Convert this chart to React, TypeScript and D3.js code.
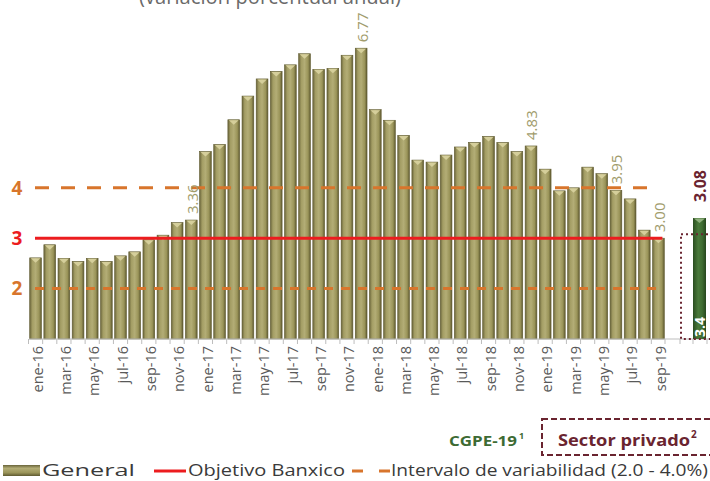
import React from "react";
import * as d3 from "d3";

// Monthly labels (ene-16 … sep-19) and annual inflation (%)
const months: string[] = [
  "ene-16","feb-16","mar-16","abr-16","may-16","jun-16","jul-16","ago-16","sep-16","oct-16","nov-16","dic-16",
  "ene-17","feb-17","mar-17","abr-17","may-17","jun-17","jul-17","ago-17","sep-17","oct-17","nov-17","dic-17",
  "ene-18","feb-18","mar-18","abr-18","may-18","jun-18","jul-18","ago-18","sep-18","oct-18","nov-18","dic-18",
  "ene-19","feb-19","mar-19","abr-19","may-19","jun-19","jul-19","ago-19","sep-19",
];
const general: number[] = [
  2.61, 2.87, 2.60, 2.54, 2.60, 2.54, 2.65, 2.73, 2.97, 3.06, 3.31, 3.36,
  4.72, 4.86, 5.35, 5.82, 6.16, 6.31, 6.44, 6.66, 6.35, 6.37, 6.63, 6.77,
  5.55, 5.34, 5.04, 4.55, 4.51, 4.65, 4.81, 4.90, 5.02, 4.90, 4.72, 4.83,
  4.37, 3.94, 4.00, 4.41, 4.28, 3.95, 3.78, 3.16, 3.00,
];
const labelledMonths: string[] = ["dic-16", "dic-17", "dic-18", "jun-19", "sep-19"];

const objetivo = 3.0;
const intervalo: number[] = [2.0, 4.0];
const yTicks: number[] = [4, 3, 2];

// Forecasts for the end of 2019
const cgpe19 = 3.4;
const sectorPrivado = 3.08;

const W = 710;
const H = 481;

const OLIVE_DARK = "#5f5a2f";
const ORANGE = "#d8752c";
const RED = "#ec1c1f";
const MAROON = "#6a2430";
const GREEN_TXT = "#3d6b34";

export default function App() {
  const x = d3.scaleBand<string>().domain(months).range([29, 665]).paddingInner(0.17).paddingOuter(0.05);
  const y = d3.scaleLinear().domain([1, 8]).range([339, 339 - 7 * 50.4]);
  const base = y(1);
  const bw = x.bandwidth();
  const cx = (m: string) => (x(m) as number) + bw / 2;

  // forecast columns: dotted private-sector box, then the CGPE bar
  const fx = d3.scaleBand<string>().domain(["privado", "cgpe"]).range([680, 706]);
  const gx = fx("cgpe") as number;
  const px = fx("privado") as number;

  const tickLabels = months.filter((_, i) => i % 2 === 0);
  const font = "'Open Sans', 'DejaVu Sans', sans-serif";

  const lineStart = 35;
  const lineEnd = cx(months[months.length - 1]) + 4;

  return (
    <svg width={W} height={H} viewBox={`0 0 ${W} ${H}`}
      style={{ position: "absolute", left: 0, top: 0, background: "#fff" }}
      fontFamily={font}>
      <defs>
        <linearGradient id="oliveGrad" x1="0" x2="1" y1="0" y2="0">
          <stop offset="0" stopColor="#69643a" />
          <stop offset="0.22" stopColor="#a39d64" />
          <stop offset="0.5" stopColor="#b3ad76" />
          <stop offset="0.8" stopColor="#9a9459" />
          <stop offset="1" stopColor="#5e5930" />
        </linearGradient>
        <linearGradient id="oliveGradV" x1="0" x2="0" y1="0" y2="1">
          <stop offset="0" stopColor="#69643a" />
          <stop offset="0.3" stopColor="#b3ad76" />
          <stop offset="0.7" stopColor="#9a9459" />
          <stop offset="1" stopColor="#5e5930" />
        </linearGradient>
        <linearGradient id="greenGrad" x1="0" x2="1" y1="0" y2="0">
          <stop offset="0" stopColor="#2a4d20" />
          <stop offset="0.4" stopColor="#4a7a3b" />
          <stop offset="0.7" stopColor="#3f6d32" />
          <stop offset="1" stopColor="#25461c" />
        </linearGradient>
      </defs>

      {/* subtitle, mostly above the visible area */}
      <text x={270} y={4} textAnchor="middle" fontSize={21} fill="#6a6a6a"
        textLength={262} lengthAdjust="spacingAndGlyphs">(variación porcentual anual)</text>

      {/* bars */}
      {months.map((m, i) => {
        const top = y(general[i]);
        const x0 = x(m) as number;
        return (
          <g key={m}>
            <rect x={x0} y={top} width={bw} height={base - top} fill="url(#oliveGrad)"
              stroke={OLIVE_DARK} strokeWidth={0.6} />
            <path d={`M${x0 + 1},${top + 0.5} L${x0 + bw - 1},${top + 0.5} L${x0 + bw / 2},${top + 5} Z`}
              fill="#d9d3a0" opacity={0.9} />
          </g>
        );
      })}

      {/* axis line and ticks */}
      <line x1={29} x2={710} y1={base} y2={base} stroke="#bdbdbd" strokeWidth={1} />
      {months.map((m) => (
        <line key={"t" + m} x1={(x(m) as number) - x.step() * x.paddingInner() / 2}
          x2={(x(m) as number) - x.step() * x.paddingInner() / 2}
          y1={base} y2={base + 5} stroke="#bdbdbd" strokeWidth={1} />
      ))}
      {[665, 680, 693, 707].map((t) => (
        <line key={"rt" + t} x1={t} x2={t} y1={base} y2={base + 5} stroke="#bdbdbd" strokeWidth={1} />
      ))}

      {/* reference lines */}
      <line x1={lineStart} x2={lineEnd} y1={y(intervalo[0])} y2={y(intervalo[0])}
        stroke={ORANGE} strokeWidth={3} strokeDasharray="9 8" />
      <line x1={lineStart} x2={lineEnd - 12} y1={y(intervalo[1])} y2={y(intervalo[1])}
        stroke={ORANGE} strokeWidth={3} strokeDasharray="14 12" />
      <line x1={lineStart} x2={lineEnd} y1={y(objetivo)} y2={y(objetivo)}
        stroke={RED} strokeWidth={3} />

      {/* y labels */}
      {yTicks.map((t) => (
        <text key={"y" + t} x={17} y={y(t)} dy="0.36em" textAnchor="middle" fontSize={19}
          fontWeight="bold" fill={t === objetivo ? RED : ORANGE}>{t}</text>
      ))}

      {/* value labels */}
      {labelledMonths.map((m) => {
        const v = general[months.indexOf(m)];
        return (
          <text key={"v" + m} transform={`translate(${cx(m) + 1},${y(v) - 6}) rotate(-90)`}
            dy="0.36em" fontSize={15} fill="#a19c6c">{v.toFixed(2)}</text>
        );
      })}

      {/* month labels */}
      {tickLabels.map((m) => (
        <text key={"m" + m} transform={`translate(${cx(m) + 2},${base + 7}) rotate(-90)`}
          textAnchor="end" dy="0.36em" fontSize={14.5} fill="#595959">{m}</text>
      ))}

      {/* forecasts */}
      <rect x={gx} y={y(cgpe19)} width={13} height={base - y(cgpe19)} fill="url(#greenGrad)" />
      <path d={`M${gx + 1},${y(cgpe19) + 0.5} L${gx + 12},${y(cgpe19) + 0.5} L${gx + 6.5},${y(cgpe19) + 5} Z`}
        fill="#8fb07d" />
      <rect x={px + 1} y={y(sectorPrivado)} width={60} height={base - y(sectorPrivado)}
        fill="none" stroke={MAROON} strokeWidth={2} strokeDasharray="2 3" />
      <text transform={`translate(${gx + 6.5},${base - 2}) rotate(-90)`}
        dy="0.36em" fontSize={14} fontWeight="bold" fill="#ffffff">{cgpe19.toFixed(1)}</text>
      <text transform={`translate(${gx + 7.5},${y(cgpe19) - 16}) rotate(-90)`}
        dy="0.36em" fontSize={16} fontWeight="bold" fill={MAROON}>{sectorPrivado.toFixed(2)}</text>

      {/* forecast captions */}
      <text x={449} y={446} fontSize={15} fontWeight="bold" fill={GREEN_TXT}
        textLength={68} lengthAdjust="spacingAndGlyphs">CGPE-19</text>
      <text x={519} y={439} fontSize={9} fontWeight="bold" fill={GREEN_TXT}>1</text>
      <rect x={542} y={419} width={190} height={36} fill="none" stroke={MAROON}
        strokeWidth={2} strokeDasharray="6 3" />
      <text x={558} y={446} fontSize={16} fontWeight="bold" fill={MAROON}
        textLength={132} lengthAdjust="spacingAndGlyphs">Sector privado</text>
      <text x={691} y={438} fontSize={10} fontWeight="bold" fill={MAROON}>2</text>

      {/* legend */}
      <rect x={3} y={465} width={37} height={11} fill="url(#oliveGradV)" />
      <text x={42} y={476} fontSize={16} fill="#3a3a3a" textLength={93} lengthAdjust="spacingAndGlyphs">General</text>
      <line x1={154} x2={186} y1={471} y2={471} stroke={RED} strokeWidth={3} />
      <text x={188} y={476} fontSize={16} fill="#3a3a3a" textLength={157} lengthAdjust="spacingAndGlyphs">Objetivo Banxico</text>
      <line x1={352} x2={390} y1={471} y2={471} stroke={ORANGE} strokeWidth={3} strokeDasharray="11 16" />
      <text x={391} y={476} fontSize={16} fill="#3a3a3a" textLength={317} lengthAdjust="spacingAndGlyphs">Intervalo de variabilidad (2.0 - 4.0%)</text>
    </svg>
  );
}
